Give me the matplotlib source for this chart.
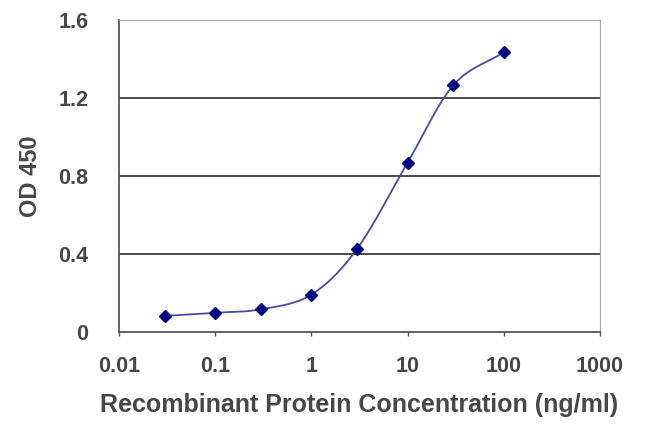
import matplotlib
matplotlib.use("Agg")
import matplotlib.pyplot as plt
import numpy as np

plt.rcParams["font.family"] = ["Liberation Sans", "DejaVu Sans"]

# ELISA standard curve
conc_ng_ml = [0.03, 0.1, 0.3, 1, 3, 10, 30, 100]
od_450 = [0.083, 0.099, 0.117, 0.192, 0.428, 0.868, 1.266, 1.434]

x_ticks = [0.01, 0.1, 1, 10, 100, 1000]
x_tick_labels = ["0.01", "0.1", "1", "10", "100", "1000"]
y_ticks = [0, 0.4, 0.8, 1.2, 1.6]
y_tick_labels = ["0", "0.4", "0.8", "1.2", "1.6"]

LINE_COLOR = "#4a4aa8"
MARKER_COLOR = "#000080"
GRID_COLOR = "#3a3a3a"
TEXT_COLOR = "#474747"


def smooth_path(xs, ys, steps=30):
    # Catmull-Rom through the points in log-x space, like a spreadsheet smoothed line
    lx = np.log10(xs)
    ys = np.asarray(ys, dtype=float)
    px = np.concatenate([[2 * lx[0] - lx[1]], lx, [2 * lx[-1] - lx[-2]]])
    py = np.concatenate([[2 * ys[0] - ys[1]], ys, [2 * ys[-1] - ys[-2]]])
    out_x, out_y = [], []
    t = np.linspace(0, 1, steps)
    for i in range(1, len(px) - 2):
        for arr, out in ((px, out_x), (py, out_y)):
            p0, p1, p2, p3 = arr[i - 1], arr[i], arr[i + 1], arr[i + 2]
            seg = 0.5 * (2 * p1 + (-p0 + p2) * t + (2 * p0 - 5 * p1 + 4 * p2 - p3) * t ** 2
                         + (-p0 + 3 * p1 - 3 * p2 + p3) * t ** 3)
            out.extend(seg)
    return 10 ** np.array(out_x), np.array(out_y)


fig = plt.figure(figsize=(6.5, 4.33), dpi=100)
ax = fig.add_axes([0.183, 0.233, 0.740, 0.721])

sx, sy = smooth_path(conc_ng_ml, od_450)
ax.plot(sx, sy, color=LINE_COLOR, linewidth=1.3, zorder=3)
ax.plot(conc_ng_ml, od_450, linestyle="none", marker="D", markersize=6.5,
        color=MARKER_COLOR, zorder=4)

ax.set_xscale("log")
ax.set_xlim(0.01, 1000)
ax.set_ylim(0, 1.6)
ax.set_xticks(x_ticks)
ax.set_xticklabels(x_tick_labels, fontweight="bold")
ax.minorticks_off()
ax.set_yticks(y_ticks)
ax.set_yticklabels(y_tick_labels, fontweight="bold")

for y in y_ticks[1:-1]:
    ax.axhline(y, color=GRID_COLOR, linewidth=1.3, zorder=1)

for side in ("top", "right"):
    ax.spines[side].set_color("#aaaaaa")
    ax.spines[side].set_linewidth(0.9)
for side in ("left", "bottom"):
    ax.spines[side].set_color("#555555")
    ax.spines[side].set_linewidth(1.3)

ax.tick_params(axis="x", direction="out", length=3, width=1, color="#555555",
               labelsize=15.5, labelcolor=TEXT_COLOR, pad=14)
ax.tick_params(axis="y", length=0, labelsize=15.5, labelcolor=TEXT_COLOR, pad=22)

ax.set_xlabel("Recombinant Protein Concentration (ng/ml)", fontsize=18,
              fontweight="bold", color=TEXT_COLOR, labelpad=12)
ax.set_ylabel("OD 450", fontsize=17, fontweight="bold", color=TEXT_COLOR, labelpad=12)

fig.savefig("out.png", dpi=100)
